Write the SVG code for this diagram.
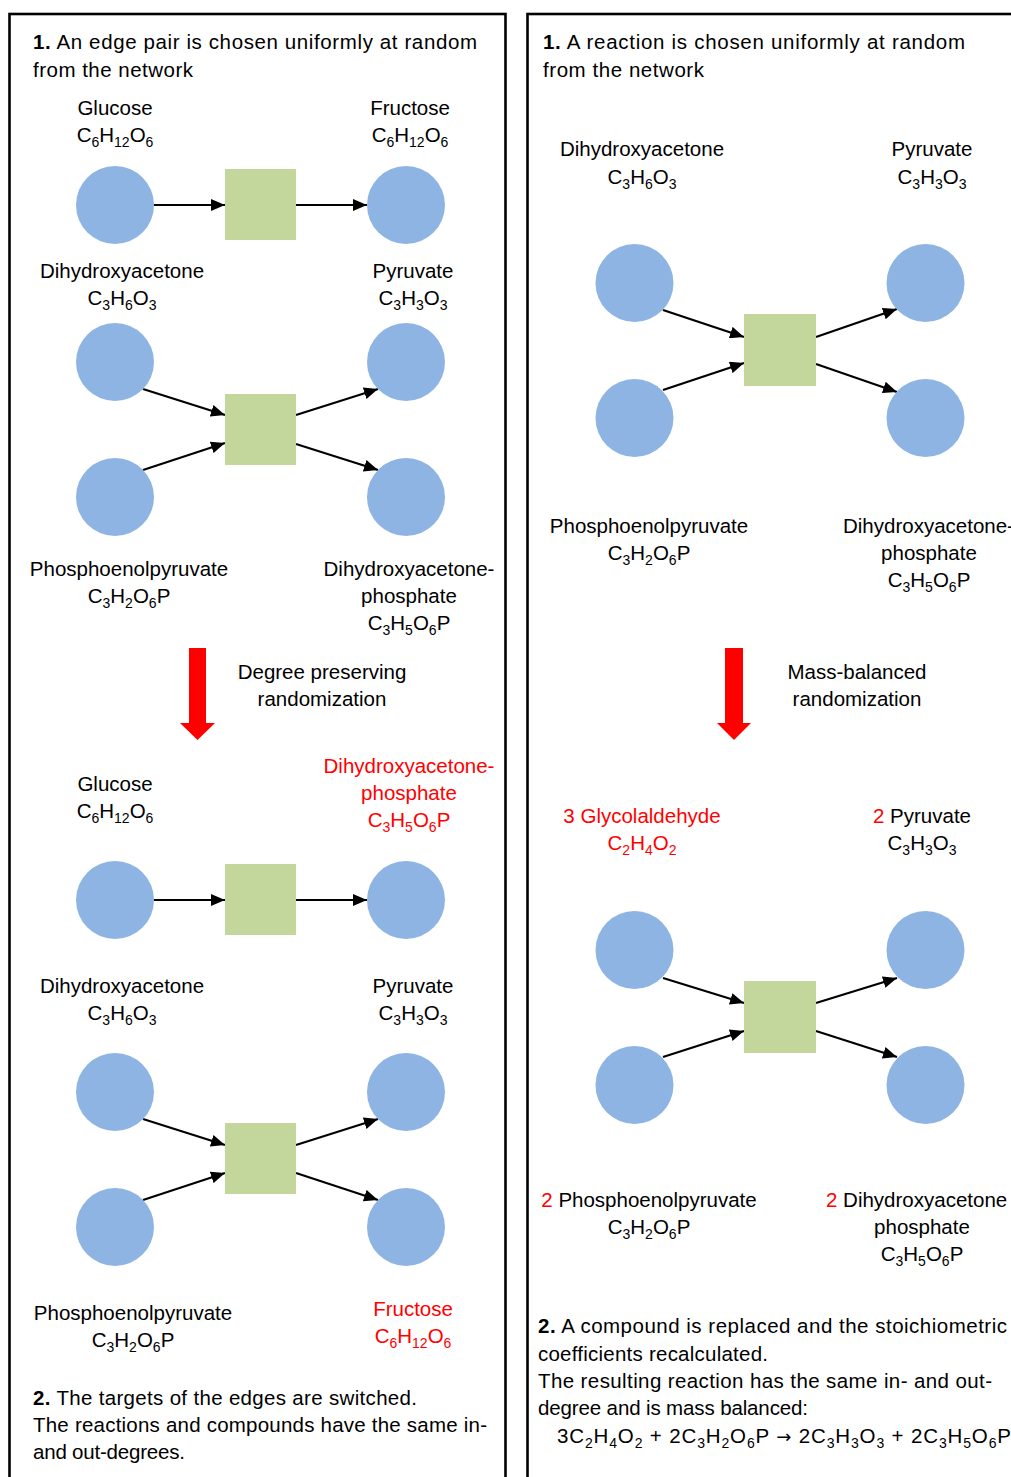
<svg xmlns="http://www.w3.org/2000/svg" width="1011" height="1477" viewBox="0 0 1011 1477">
<style>
.t{font-family:"Liberation Sans",Arial,sans-serif;font-size:20.5px;fill:#000}
.m{text-anchor:middle}
.r{fill:#ff0000}
.s{font-size:14px}
.b{font-weight:bold}
.ar{font-family:"DejaVu Sans",sans-serif;font-size:18px}
.cp{fill:#8eb4e3}
.rx{fill:#c3d69b}
.e{stroke:#000;stroke-width:2.2;fill:none;marker-end:url(#ah)}
.box{fill:none;stroke:#000;stroke-width:2.6}
.big{fill:#ff0000}
</style>
<defs>
<marker id="ah" markerUnits="userSpaceOnUse" markerWidth="14" markerHeight="12" refX="14" refY="6" orient="auto">
<path d="M0,0 L14,6 L0,12 z" fill="#000"/>
</marker>
</defs>
<rect width="1011" height="1477" fill="#fff"/>
<rect class="box" x="9.5" y="14" width="496" height="1480"/>
<rect class="box" x="527.5" y="14" width="500" height="1480"/>

<!-- Left panel texts -->
<g id="left-text">
<text class="t" x="33" y="49" textLength="444"><tspan class="b">1.</tspan>  An edge pair is chosen uniformly at random</text>
<text class="t" x="33" y="77" textLength="160">from the network</text>
<text class="t m" x="322" y="679">Degree preserving</text>
<text class="t m" x="322" y="706">randomization</text>
<text class="t" x="33" y="1405" textLength="384"><tspan class="b">2.</tspan> The targets of the edges are switched.</text>
<text class="t" x="33" y="1432" textLength="454">The reactions and compounds have the same in-</text>
<text class="t" x="33" y="1459" textLength="152">and out-degrees.</text>
<path id="left-red-arrow" class="big" d="M189,648 H206 V723 H215 L197.5,740 L180,723 H189 Z"/>
</g>

<!-- Right panel texts -->
<g id="right-text">
<text class="t" x="543" y="49" textLength="422"><tspan class="b">1.</tspan>  A reaction is chosen uniformly at random</text>
<text class="t" x="543" y="77" textLength="161">from the network</text>
<text class="t m" x="857" y="679">Mass-balanced</text>
<text class="t m" x="857" y="706">randomization</text>
<text class="t" x="538" y="1333" textLength="469"><tspan class="b">2.</tspan> A compound is replaced and the stoichiometric</text>
<text class="t" x="538" y="1361" textLength="230">coefficients recalculated.</text>
<text class="t" x="538" y="1388" textLength="454">The resulting reaction has the same in- and out-</text>
<text class="t" x="538" y="1415" textLength="270">degree and is mass balanced:</text>
<text class="t" x="557" y="1443" textLength="454">3C<tspan class="s" dy="5">2</tspan><tspan dy="-5">H</tspan><tspan class="s" dy="5">4</tspan><tspan dy="-5">O</tspan><tspan class="s" dy="5">2</tspan><tspan dy="-5"> + 2C</tspan><tspan class="s" dy="5">3</tspan><tspan dy="-5">H</tspan><tspan class="s" dy="5">2</tspan><tspan dy="-5">O</tspan><tspan class="s" dy="5">6</tspan><tspan dy="-5">P </tspan><tspan class="ar">→</tspan><tspan> 2C</tspan><tspan class="s" dy="5">3</tspan><tspan dy="-5">H</tspan><tspan class="s" dy="5">3</tspan><tspan dy="-5">O</tspan><tspan class="s" dy="5">3</tspan><tspan dy="-5"> + 2C</tspan><tspan class="s" dy="5">3</tspan><tspan dy="-5">H</tspan><tspan class="s" dy="5">5</tspan><tspan dy="-5">O</tspan><tspan class="s" dy="5">6</tspan><tspan dy="-5">P</tspan></text>
<path id="right-red-arrow" class="big" d="M725,648 H743 V723 H751 L734,740 L717,723 H725 Z"/>
</g>

<!-- Connectors -->
<g id="connectors">
<line class="e" x1="154" y1="205" x2="225" y2="205"/>
<line class="e" x1="296" y1="205" x2="367" y2="205"/>
<line class="e" x1="143" y1="389" x2="225" y2="415"/>
<line class="e" x1="143" y1="470" x2="225" y2="443"/>
<line class="e" x1="296" y1="415" x2="378" y2="389"/>
<line class="e" x1="296" y1="444" x2="378" y2="470"/>
<line class="e" x1="154" y1="900" x2="225" y2="900"/>
<line class="e" x1="296" y1="900" x2="367" y2="900"/>
<line class="e" x1="143" y1="1119" x2="225" y2="1145"/>
<line class="e" x1="143" y1="1200" x2="225" y2="1173"/>
<line class="e" x1="296" y1="1145" x2="378" y2="1119"/>
<line class="e" x1="296" y1="1173" x2="378" y2="1200"/>
<line class="e" x1="663" y1="310" x2="744" y2="337"/>
<line class="e" x1="663" y1="390" x2="744" y2="363"/>
<line class="e" x1="816" y1="337" x2="897" y2="309"/>
<line class="e" x1="816" y1="364" x2="897" y2="392"/>
<line class="e" x1="663" y1="978" x2="744" y2="1003"/>
<line class="e" x1="663" y1="1057" x2="744" y2="1031"/>
<line class="e" x1="816" y1="1003" x2="897" y2="978"/>
<line class="e" x1="816" y1="1031" x2="897" y2="1057"/>
</g>

<!-- Left panel, before -->
<g id="L-glucose">
<circle class="cp" cx="115" cy="205" r="39"/>
<text class="t m" x="115" y="115">Glucose</text>
<text class="t m" x="115" y="142">C<tspan class="s" dy="5">6</tspan><tspan dy="-5">H</tspan><tspan class="s" dy="5">12</tspan><tspan dy="-5">O</tspan><tspan class="s" dy="5">6</tspan></text>
</g>
<g id="L-r1"><rect class="rx" x="225" y="169" width="71" height="71"/></g>
<g id="L-fructose">
<circle class="cp" cx="406" cy="205" r="39"/>
<text class="t m" x="410" y="115">Fructose</text>
<text class="t m" x="410" y="142">C<tspan class="s" dy="5">6</tspan><tspan dy="-5">H</tspan><tspan class="s" dy="5">12</tspan><tspan dy="-5">O</tspan><tspan class="s" dy="5">6</tspan></text>
</g>
<g id="L-dha">
<circle class="cp" cx="115" cy="362" r="39"/>
<text class="t m" x="122" y="278">Dihydroxyacetone</text>
<text class="t m" x="122" y="305">C<tspan class="s" dy="5">3</tspan><tspan dy="-5">H</tspan><tspan class="s" dy="5">6</tspan><tspan dy="-5">O</tspan><tspan class="s" dy="5">3</tspan></text>
</g>
<g id="L-pep">
<circle class="cp" cx="115" cy="497" r="39"/>
<text class="t m" x="129" y="576">Phosphoenolpyruvate</text>
<text class="t m" x="129" y="603">C<tspan class="s" dy="5">3</tspan><tspan dy="-5">H</tspan><tspan class="s" dy="5">2</tspan><tspan dy="-5">O</tspan><tspan class="s" dy="5">6</tspan><tspan dy="-5">P</tspan></text>
</g>
<g id="L-r2"><rect class="rx" x="225" y="394" width="71" height="71"/></g>
<g id="L-pyruvate">
<circle class="cp" cx="406" cy="362" r="39"/>
<text class="t m" x="413" y="278">Pyruvate</text>
<text class="t m" x="413" y="305">C<tspan class="s" dy="5">3</tspan><tspan dy="-5">H</tspan><tspan class="s" dy="5">3</tspan><tspan dy="-5">O</tspan><tspan class="s" dy="5">3</tspan></text>
</g>
<g id="L-dhap">
<circle class="cp" cx="406" cy="497" r="39"/>
<text class="t m" x="409" y="576">Dihydroxyacetone-</text>
<text class="t m" x="409" y="603">phosphate</text>
<text class="t m" x="409" y="630">C<tspan class="s" dy="5">3</tspan><tspan dy="-5">H</tspan><tspan class="s" dy="5">5</tspan><tspan dy="-5">O</tspan><tspan class="s" dy="5">6</tspan><tspan dy="-5">P</tspan></text>
</g>

<!-- Left panel, after -->
<g id="L2-glucose">
<circle class="cp" cx="115" cy="900" r="39"/>
<text class="t m" x="115" y="791">Glucose</text>
<text class="t m" x="115" y="818">C<tspan class="s" dy="5">6</tspan><tspan dy="-5">H</tspan><tspan class="s" dy="5">12</tspan><tspan dy="-5">O</tspan><tspan class="s" dy="5">6</tspan></text>
</g>
<g id="L2-r1"><rect class="rx" x="225" y="864" width="71" height="71"/></g>
<g id="L2-dhap">
<circle class="cp" cx="406" cy="900" r="39"/>
<text class="t m r" x="409" y="773">Dihydroxyacetone-</text>
<text class="t m r" x="409" y="800">phosphate</text>
<text class="t m r" x="409" y="827">C<tspan class="s" dy="5">3</tspan><tspan dy="-5">H</tspan><tspan class="s" dy="5">5</tspan><tspan dy="-5">O</tspan><tspan class="s" dy="5">6</tspan><tspan dy="-5">P</tspan></text>
</g>
<g id="L2-dha">
<circle class="cp" cx="115" cy="1092" r="39"/>
<text class="t m" x="122" y="993">Dihydroxyacetone</text>
<text class="t m" x="122" y="1020">C<tspan class="s" dy="5">3</tspan><tspan dy="-5">H</tspan><tspan class="s" dy="5">6</tspan><tspan dy="-5">O</tspan><tspan class="s" dy="5">3</tspan></text>
</g>
<g id="L2-pep">
<circle class="cp" cx="115" cy="1227" r="39"/>
<text class="t m" x="133" y="1320">Phosphoenolpyruvate</text>
<text class="t m" x="133" y="1347">C<tspan class="s" dy="5">3</tspan><tspan dy="-5">H</tspan><tspan class="s" dy="5">2</tspan><tspan dy="-5">O</tspan><tspan class="s" dy="5">6</tspan><tspan dy="-5">P</tspan></text>
</g>
<g id="L2-r2"><rect class="rx" x="225" y="1123" width="71" height="71"/></g>
<g id="L2-pyruvate">
<circle class="cp" cx="406" cy="1092" r="39"/>
<text class="t m" x="413" y="993">Pyruvate</text>
<text class="t m" x="413" y="1020">C<tspan class="s" dy="5">3</tspan><tspan dy="-5">H</tspan><tspan class="s" dy="5">3</tspan><tspan dy="-5">O</tspan><tspan class="s" dy="5">3</tspan></text>
</g>
<g id="L2-fructose">
<circle class="cp" cx="406" cy="1227" r="39"/>
<text class="t m r" x="413" y="1316">Fructose</text>
<text class="t m r" x="413" y="1343">C<tspan class="s" dy="5">6</tspan><tspan dy="-5">H</tspan><tspan class="s" dy="5">12</tspan><tspan dy="-5">O</tspan><tspan class="s" dy="5">6</tspan></text>
</g>

<!-- Right panel, before -->
<g id="R-dha">
<circle class="cp" cx="634.5" cy="283" r="39"/>
<text class="t m" x="642" y="156">Dihydroxyacetone</text>
<text class="t m" x="642" y="184">C<tspan class="s" dy="5">3</tspan><tspan dy="-5">H</tspan><tspan class="s" dy="5">6</tspan><tspan dy="-5">O</tspan><tspan class="s" dy="5">3</tspan></text>
</g>
<g id="R-pep">
<circle class="cp" cx="634.5" cy="418" r="39"/>
<text class="t m" x="649" y="533">Phosphoenolpyruvate</text>
<text class="t m" x="649" y="560">C<tspan class="s" dy="5">3</tspan><tspan dy="-5">H</tspan><tspan class="s" dy="5">2</tspan><tspan dy="-5">O</tspan><tspan class="s" dy="5">6</tspan><tspan dy="-5">P</tspan></text>
</g>
<g id="R-r"><rect class="rx" x="744" y="314" width="72" height="72"/></g>
<g id="R-pyruvate">
<circle class="cp" cx="925.5" cy="283" r="39"/>
<text class="t m" x="932" y="156">Pyruvate</text>
<text class="t m" x="932" y="184">C<tspan class="s" dy="5">3</tspan><tspan dy="-5">H</tspan><tspan class="s" dy="5">3</tspan><tspan dy="-5">O</tspan><tspan class="s" dy="5">3</tspan></text>
</g>
<g id="R-dhap">
<circle class="cp" cx="925.5" cy="418" r="39"/>
<text class="t" x="843" y="533">Dihydroxyacetone-</text>
<text class="t m" x="929" y="560">phosphate</text>
<text class="t m" x="929" y="587">C<tspan class="s" dy="5">3</tspan><tspan dy="-5">H</tspan><tspan class="s" dy="5">5</tspan><tspan dy="-5">O</tspan><tspan class="s" dy="5">6</tspan><tspan dy="-5">P</tspan></text>
</g>

<!-- Right panel, after -->
<g id="R2-glycolaldehyde">
<circle class="cp" cx="634.5" cy="950" r="39"/>
<text class="t m r" x="642" y="823">3 Glycolaldehyde</text>
<text class="t m r" x="642" y="850">C<tspan class="s" dy="5">2</tspan><tspan dy="-5">H</tspan><tspan class="s" dy="5">4</tspan><tspan dy="-5">O</tspan><tspan class="s" dy="5">2</tspan></text>
</g>
<g id="R2-pep">
<circle class="cp" cx="634.5" cy="1085" r="39"/>
<text class="t m" x="649" y="1207"><tspan class="r">2</tspan> Phosphoenolpyruvate</text>
<text class="t m" x="649" y="1234">C<tspan class="s" dy="5">3</tspan><tspan dy="-5">H</tspan><tspan class="s" dy="5">2</tspan><tspan dy="-5">O</tspan><tspan class="s" dy="5">6</tspan><tspan dy="-5">P</tspan></text>
</g>
<g id="R2-r"><rect class="rx" x="744" y="981" width="72" height="72"/></g>
<g id="R2-pyruvate">
<circle class="cp" cx="925.5" cy="950" r="39"/>
<text class="t m" x="922" y="823"><tspan class="r">2</tspan> Pyruvate</text>
<text class="t m" x="922" y="850">C<tspan class="s" dy="5">3</tspan><tspan dy="-5">H</tspan><tspan class="s" dy="5">3</tspan><tspan dy="-5">O</tspan><tspan class="s" dy="5">3</tspan></text>
</g>
<g id="R2-dhap">
<circle class="cp" cx="925.5" cy="1085" r="39"/>
<text class="t" x="826" y="1207"><tspan class="r">2</tspan> Dihydroxyacetone</text>
<text class="t m" x="922" y="1234">phosphate</text>
<text class="t m" x="922" y="1261">C<tspan class="s" dy="5">3</tspan><tspan dy="-5">H</tspan><tspan class="s" dy="5">5</tspan><tspan dy="-5">O</tspan><tspan class="s" dy="5">6</tspan><tspan dy="-5">P</tspan></text>
</g>
</svg>
